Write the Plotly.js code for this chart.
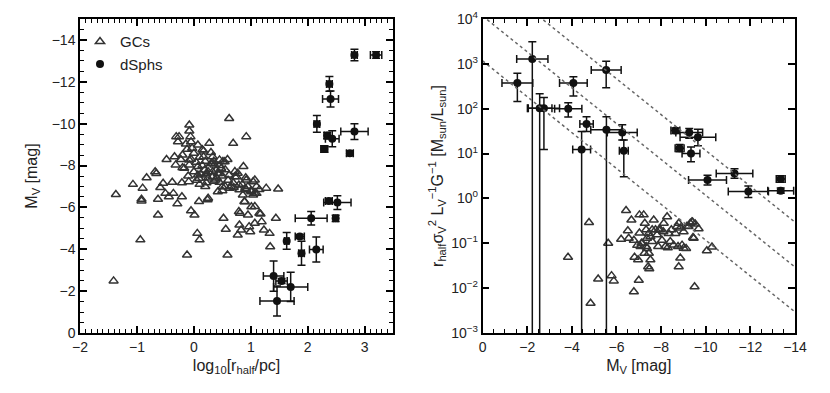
<!DOCTYPE html>
<html>
<head>
<meta charset="utf-8">
<script src="https://cdn.plot.ly/plotly-3.0.1.min.js"></script>
<style>
  html, body { margin: 0; padding: 0; background: #fff; }
  #chart { width: 830px; height: 393px; }
</style>
</head>
<body>
<div id="chart"></div>
<script>
// ---- left panel: GCs (log10 r_half, M_V) ----
var gcLogR = [
  -1.37,-1.41,-0.94,-1.07,-0.90,-0.92,-0.92,-0.83,-0.68,-0.66,-0.63,-0.63,-0.59,-0.54,-0.48,-0.50,-0.44,-0.38,-0.36,-0.34,
  -0.32,-0.31,-0.28,-0.26,-0.29,-0.21,-0.21,-0.23,-0.20,-0.17,-0.14,-0.12,-0.08,-0.08,-0.09,-0.12,-0.08,-0.08,-0.06,-0.05,
  -0.03,0.00,-0.05,0.01,0.06,0.10,0.04,0.07,0.07,0.09,0.07,0.15,0.17,0.19,0.21,0.09,0.22,0.24,0.27,0.30,
  0.33,0.36,0.39,0.42,0.38,0.45,0.48,0.51,0.42,0.50,0.59,0.62,0.63,0.52,0.56,0.62,0.69,0.72,0.69,0.59,
  0.75,0.79,0.80,0.81,0.80,0.77,0.83,0.87,0.91,0.92,0.92,0.89,0.95,0.99,1.04,1.07,1.07,1.10,1.15,1.19,
  1.23,1.27,1.33,1.34,1.48,1.44,
  0.10,0.15,0.20,0.25,0.30,0.35,0.40,0.25,0.12,0.05,0.00,0.17,0.33,0.45,0.50,0.55,-0.05,0.10,0.20,0.35,
  0.45,0.60,0.65,0.70,0.85,0.90,0.95,1.00,1.10,1.15,0.50,0.55,-0.10,-0.20,
  1.17,0.97,1.07,0.25,1.01,0.79,1.04,0.72,0.77,0.92,1.01,1.07,0.86,0.89,0.45,0.54,0.33,0.22,0.33
];
var gcMvLeft = [
  -6.62,-2.49,-4.45,-7.10,-6.92,-6.39,-6.31,-7.42,-7.70,-7.62,-5.64,-6.39,-6.95,-7.15,-8.29,-6.67,-6.51,-7.20,-6.67,-8.42,
  -8.03,-9.38,-9.14,-9.38,-6.17,-6.51,-7.18,-8.29,-8.50,-7.87,-9.03,-8.78,-8.26,-8.03,-7.23,-3.73,-9.94,-9.65,-9.38,-9.14,
  -8.83,-8.59,-5.84,-5.64,-4.76,-4.45,-8.16,-7.95,-7.55,-7.39,-8.98,-8.75,-8.42,-7.79,-7.55,-6.28,-7.18,-6.36,-9.06,-8.62,
  -8.42,-8.03,-7.79,-7.62,-7.31,-7.62,-7.87,-8.19,-6.75,-6.99,-8.29,-7.55,-6.92,-5.48,-4.96,-10.25,-9.06,-7.71,-7.18,-3.73,
  -7.47,-7.07,-6.84,-5.72,-5.16,-4.68,-4.92,-7.95,-7.42,-9.38,-6.84,-6.28,-5.64,-4.84,-6.59,-7.31,-6.04,-6.67,-5.72,-5.32,
  -4.92,-6.92,-4.76,-4.12,-6.88,-5.48,
  -8.40,-8.00,-8.20,-7.70,-8.10,-8.20,-7.40,-7.40,-7.60,-7.30,-7.70,-8.70,-7.70,-8.00,-7.50,-7.80,-8.30,-7.10,-7.00,-7.25,
  -7.20,-7.30,-7.00,-6.95,-7.10,-6.90,-7.00,-6.80,-7.00,-6.85,-6.80,-7.00,-7.50,-7.90,
  -5.69,-5.08,-5.24,-6.44,-6.03,-5.80,-7.23,-7.47,-7.63,-7.31,-6.75,-6.67,-6.59,-6.27,-8.27,-8.18,-8.11,-7.63,-7.47
];

// ---- left panel: dSphs ----
var dsLogR = [2.82,3.20,2.38,2.40,2.16,2.34,2.43,2.82,2.29,2.74,2.37,2.52,2.06,2.49,1.63,1.86,1.89,2.15,1.40,1.54,1.70,1.46];
var dsMvLeft = [-13.28,-13.28,-11.90,-11.18,-9.99,-9.43,-9.28,-9.62,-8.79,-8.59,-6.31,-6.23,-5.48,-5.48,-4.40,-4.61,-3.81,-3.99,-2.72,-2.48,-2.20,-1.53];
var dsLogRErr = [0.05,0.10,0.05,0.14,0.05,0.05,0.12,0.24,0.06,0.06,0.06,0.24,0.28,0.04,0.04,0.08,0.05,0.12,0.18,0.10,0.30,0.30];
var dsMvErr = [0.27,0.15,0.35,0.38,0.40,0.15,0.38,0.38,0.15,0.12,0.12,0.33,0.32,0.15,0.40,0.10,0.57,0.60,0.72,0.12,0.70,0.72];

// ---- right panel: GCs (M_V, mass-to-light) ----
var gcMvRight = [
  -3.83,-4.77,-4.84,-5.18,-5.63,-5.78,-5.88,-6.21,-6.43,-6.51,-6.67,-6.81,-6.78,-7.03,-7.22,-6.97,-7.00,-7.03,-7.15,-7.27,
  -7.33,-7.37,-7.45,-7.52,-7.42,-7.47,-7.52,-7.60,-7.67,-7.75,-7.82,-7.97,-8.12,-8.19,-8.04,-8.27,-8.34,-8.46,-8.56,-8.71,
  -8.79,-8.76,-8.86,-8.79,-8.94,-9.12,-9.23,-9.31,-9.41,-9.46,-9.50,-9.68,-10.05,-10.28,-6.55,-6.78,-6.93,-7.08,-7.33,-7.45,
  -7.60,-7.87,-8.64,-8.30,-7.12,-7.25,-9.38,-9.53,-9.43,-9.01,-8.41,-7.37,-7.90,-8.10,-8.86,-9.16,-9.01
];
var gcMLRight = [
  0.049,0.29,0.0046,0.016,0.10,0.019,0.0145,0.123,0.54,0.19,0.33,0.049,0.0083,0.43,0.43,0.043,0.015,0.17,0.10,0.28,
  0.20,0.077,0.06,0.043,0.030,0.027,0.14,0.11,0.33,0.20,0.155,0.20,0.28,0.085,0.117,0.39,0.166,0.20,0.091,0.236,
  0.28,0.085,0.047,0.030,0.091,0.077,0.236,0.28,0.30,0.13,0.0107,0.21,0.068,0.083,0.13,0.117,0.09,0.085,0.085,0.166,
  0.20,0.085,0.166,0.08,0.10,0.06,0.30,0.27,0.135,0.078,0.11,0.13,0.20,0.18,0.22,0.24,0.18
];

// ---- right panel: dSphs (lower bound 1e-5 = bar runs off the bottom of the axis) ----
var dsMvRight = [-1.56,-2.23,-2.56,-2.75,-3.84,-4.07,-4.44,-4.66,-5.54,-5.55,-6.26,-6.33,-8.64,-8.83,-9.26,-9.65,-9.34,-10.08,-11.29,-11.91,-13.36,-13.36];
var dsML = [373,1290,102,102,100,373,12.4,45.6,730,34,29.6,11.5,32.5,13.2,29.5,23,10,2.58,3.6,1.42,2.7,1.48];
var dsMLLow = [145,1e-5,1e-5,12.4,65,192,1e-5,31,295,1e-5,20,3.05,28,11,22,15,6.6,2.0,2.8,1.05,2.3,1.3];
var dsMLHigh = [620,3100,215,178,135,515,31,66,1150,66,44,20,37,16,36,35,14,3.3,4.6,1.9,3.2,1.7];
var dsMvRightErr = [0.69,0.70,0.55,0.70,0.61,0.62,0.40,0.30,0.67,0.70,0.67,0.20,0.20,0.20,0.60,0.80,0.40,0.85,0.82,0.90,0.20,0.58];

// ---- constant-mass lines (1e5, 1e6, 1e7 Msun) ----
var lineMv = [0, -14];
var line7 = [117000, 0.295];
var line6 = [11700, 0.0295];
var line5 = [1170, 0.00295];

var ink = '#000';
var fontFam = 'Liberation Sans, Arial, sans-serif';
var tickFont = {family: fontFam, size: 14, color: '#222'};
var titleFont = {family: fontFam, size: 16, color: '#222'};

var errHi = dsML.map(function(v, i) { return dsMLHigh[i] - v; });
var errLo = dsML.map(function(v, i) { return v - dsMLLow[i]; });

function dotLine(y) {
  return {
    x: lineMv, y: y, xaxis: 'x2', yaxis: 'y2', type: 'scatter', mode: 'lines',
    line: {color: '#666', width: 1.5, dash: 'dot'}, showlegend: false
  };
}

var data = [
  {
    x: gcLogR, y: gcMvLeft, type: 'scatter', mode: 'markers', name: 'GCs',
    marker: {symbol: 'triangle-up-open', size: 8, color: '#333', line: {width: 1.5}}
  },
  {
    x: dsLogR, y: dsMvLeft, type: 'scatter', mode: 'markers', name: 'dSphs',
    marker: {symbol: 'circle', size: 8, color: '#111'},
    error_x: {type: 'data', array: dsLogRErr, color: '#111', thickness: 1.5, width: 4},
    error_y: {type: 'data', array: dsMvErr, color: '#111', thickness: 1.5, width: 4}
  },
  {
    x: gcMvRight, y: gcMLRight, xaxis: 'x2', yaxis: 'y2', type: 'scatter', mode: 'markers',
    showlegend: false, marker: {symbol: 'triangle-up-open', size: 8, color: '#333', line: {width: 1.5}}
  },
  {
    x: dsMvRight, y: dsML, xaxis: 'x2', yaxis: 'y2', type: 'scatter', mode: 'markers',
    showlegend: false, marker: {symbol: 'circle', size: 8, color: '#111'},
    error_x: {type: 'data', array: dsMvRightErr, color: '#111', thickness: 1.5, width: 4},
    error_y: {type: 'data', symmetric: false, array: errHi, arrayminus: errLo, color: '#111', thickness: 1.5, width: 4}
  },
  dotLine(line7), dotLine(line6), dotLine(line5)
];

// mirror 'ticks' puts the inside ticks on the opposite edge of the same panel
function axis(extra) {
  var a = {
    showline: true, linecolor: ink, linewidth: 1.5, mirror: 'ticks',
    ticks: 'inside', ticklen: 7, tickwidth: 1.5, tickcolor: ink,
    showgrid: false, zeroline: false, tickfont: tickFont
  };
  for (var k in extra) a[k] = extra[k];
  return a;
}

var layout = {
  width: 830, height: 393,
  margin: {l: 80, r: 35, t: 19, b: 60},
  showlegend: true,
  legend: {
    x: 0.0, y: 0.98, xanchor: 'left', yanchor: 'top', bgcolor: 'rgba(0,0,0,0)',
    font: {family: fontFam, size: 15, color: '#222'}
  },
  xaxis: axis({
    domain: [0, 0.438], anchor: 'y', range: [-2, 3.5], dtick: 1, tick0: 0,
    minor: {ticks: 'inside', dtick: 0.1, ticklen: 4, tickwidth: 1.2, tickcolor: ink},
    title: {text: 'log<sub>10</sub>[r<sub>half</sub>/pc]', font: titleFont, standoff: 6}
  }),
  yaxis: axis({
    anchor: 'x', range: [0, -15], dtick: 2, tick0: 0,
    minor: {ticks: 'inside', dtick: 0.5, ticklen: 4, tickwidth: 1.2, tickcolor: ink},
    title: {text: 'M<sub>V</sub> [mag]', font: titleFont, standoff: 10}
  }),
  xaxis2: axis({
    domain: [0.563, 1], anchor: 'y2', range: [0, -14], dtick: 2, tick0: 0,
    minor: {ticks: 'inside', dtick: 0.5, ticklen: 4, tickwidth: 1.2, tickcolor: ink},
    title: {text: 'M<sub>V</sub> [mag]', font: titleFont, standoff: 6}
  }),
  yaxis2: axis({
    anchor: 'x2', type: 'log', range: [-3, 4],
    tickmode: 'array',
    tickvals: [0.001, 0.01, 0.1, 1, 10, 100, 1000, 10000],
    ticktext: ['10<sup>−3</sup>', '10<sup>−2</sup>', '10<sup>−1</sup>', '10<sup>0</sup>',
               '10<sup>1</sup>', '10<sup>2</sup>', '10<sup>3</sup>', '10<sup>4</sup>'],
    title: {text: 'r<sub>half</sub>σ<sub>V</sub><sup>2</sup> L<sub>V</sub><sup>−1</sup>G<sup>−1</sup> [M<sub>sun</sub>/L<sub>sun</sub>]',
            font: titleFont, standoff: 4}
  })
};

Plotly.newPlot('chart', data, layout, {displayModeBar: false});
</script>
</body>
</html>
